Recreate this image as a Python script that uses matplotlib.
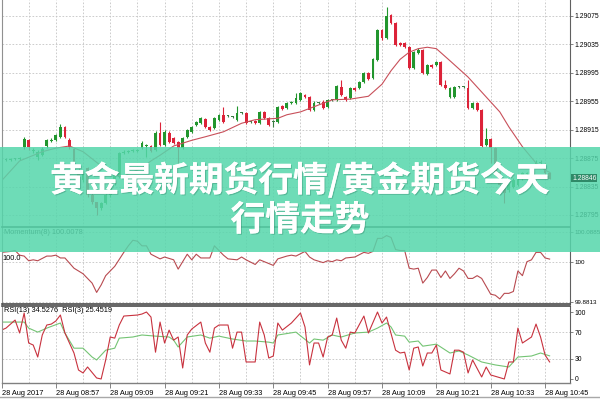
import matplotlib
matplotlib.use("Agg")
import matplotlib.pyplot as plt
import matplotlib.patheffects as pe
from matplotlib.patches import Rectangle
from matplotlib.lines import Line2D
import numpy as np

# one-minute candles, 28 Aug 2017 08:46 .. 10:46
opens = [1.28872, 1.28872, 1.28874, 1.28874, 1.28891, 1.28900, 1.28885, 1.28877, 1.28879, 1.28892,
         1.28899, 1.28900, 1.28905, 1.28919, 1.28900, 1.28888, 1.28858, 1.28844, 1.28861, 1.28823,
         1.28813, 1.28805, 1.28812, 1.28823, 1.28840, 1.28848, 1.28882, 1.28884, 1.28885, 1.28885,
         1.28889, 1.28892, 1.28892, 1.28886, 1.28910, 1.28893, 1.28910, 1.28903, 1.28898, 1.28889,
         1.28905, 1.28912, 1.28922, 1.28924, 1.28930, 1.28919, 1.28917, 1.28929, 1.28936, 1.28934,
         1.28933, 1.28929, 1.28938, 1.28938, 1.28926, 1.28927, 1.28924, 1.28940, 1.28931, 1.28926,
         1.28926, 1.28948, 1.28945, 1.28953, 1.28953, 1.28957, 1.28964, 1.28961, 1.28943, 1.28953,
         1.28954, 1.28947, 1.28957, 1.28957, 1.28975, 1.28961, 1.28960, 1.28974, 1.28974, 1.28982,
         1.28995, 1.28988, 1.29013, 1.29055, 1.29044, 1.29076, 1.29065, 1.29037, 1.29037, 1.29031,
         1.29002, 1.29023, 1.29027, 1.28993, 1.29006, 1.29006, 1.29010, 1.28978, 1.28961, 1.28961,
         1.28975, 1.28975, 1.28974, 1.28945, 1.28953, 1.28943, 1.28893, 1.28902, 1.28889, 1.28855,
         1.28837, 1.28830, 1.28834, 1.28837, 1.28847, 1.28853, 1.28851, 1.28867, 1.28868, 1.28865,
         1.28854]
closes = [1.28872, 1.28874, 1.28874, 1.28875, 1.28902, 1.28891, 1.28886, 1.28884, 1.28888, 1.28900,
          1.28900, 1.28907, 1.28919, 1.28905, 1.28891, 1.28858, 1.28844, 1.28855, 1.28823, 1.28813,
          1.28805, 1.28812, 1.28823, 1.28840, 1.28855, 1.28882, 1.28884, 1.28885, 1.28886, 1.28886,
          1.28896, 1.28893, 1.28885, 1.28910, 1.28893, 1.28912, 1.28898, 1.28896, 1.28889, 1.28903,
          1.28915, 1.28919, 1.28926, 1.28931, 1.28919, 1.28915, 1.28931, 1.28936, 1.28926, 1.28934,
          1.28933, 1.28938, 1.28938, 1.28924, 1.28926, 1.28924, 1.28940, 1.28931, 1.28922, 1.28926,
          1.28947, 1.28944, 1.28953, 1.28954, 1.28960, 1.28967, 1.28961, 1.28943, 1.28953, 1.28953,
          1.28945, 1.28957, 1.28957, 1.28976, 1.28964, 1.28957, 1.28974, 1.28971, 1.28982, 1.28995,
          1.28986, 1.29014, 1.29055, 1.29044, 1.29075, 1.29065, 1.29034, 1.29034, 1.29031, 1.29002,
          1.29024, 1.29027, 1.28995, 1.29006, 1.29003, 1.29010, 1.28978, 1.28974, 1.28974, 1.28975,
          1.28975, 1.28975, 1.28945, 1.28953, 1.28943, 1.28892, 1.28902, 1.28889, 1.28855, 1.28837,
          1.28826, 1.28840, 1.28844, 1.28847, 1.28854, 1.28854, 1.28861, 1.28868, 1.28868, 1.28854,
          1.28846]
highs = [1.28875, 1.28875, 1.28875, 1.28877, 1.28905, 1.28902, 1.28889, 1.28886, 1.28891, 1.28902,
         1.28903, 1.28909, 1.28923, 1.28920, 1.28903, 1.28889, 1.28861, 1.28858, 1.28862, 1.28826,
         1.28813, 1.28813, 1.28826, 1.28841, 1.28858, 1.28884, 1.28886, 1.28886, 1.28888, 1.28888,
         1.28899, 1.28895, 1.28893, 1.28913, 1.28926, 1.28915, 1.28913, 1.28905, 1.28899, 1.28905,
         1.28916, 1.28920, 1.28927, 1.28933, 1.28931, 1.28920, 1.28933, 1.28937, 1.28947, 1.28936,
         1.28934, 1.28948, 1.28940, 1.28940, 1.28927, 1.28929, 1.28941, 1.28941, 1.28933, 1.28929,
         1.28948, 1.28950, 1.28954, 1.28955, 1.28967, 1.28968, 1.28965, 1.28962, 1.28955, 1.28954,
         1.28957, 1.28958, 1.28958, 1.28978, 1.28985, 1.28962, 1.28975, 1.28975, 1.28983, 1.28996,
         1.28996, 1.29016, 1.29057, 1.29057, 1.29088, 1.29078, 1.29066, 1.29038, 1.29038, 1.29033,
         1.29026, 1.29030, 1.29029, 1.29007, 1.29007, 1.29012, 1.29012, 1.28985, 1.28975, 1.28976,
         1.28976, 1.28976, 1.28985, 1.28954, 1.28954, 1.28944, 1.28917, 1.28903, 1.28891, 1.28858,
         1.28840, 1.28841, 1.28847, 1.28848, 1.28855, 1.28855, 1.28864, 1.28872, 1.28872, 1.28868,
         1.28855]
lows = [1.28871, 1.28871, 1.28872, 1.28872, 1.28888, 1.28886, 1.28882, 1.28872, 1.28878, 1.28889,
        1.28898, 1.28899, 1.28903, 1.28903, 1.28888, 1.28855, 1.28840, 1.28841, 1.28820, 1.28810,
        1.28795, 1.28802, 1.28810, 1.28820, 1.28837, 1.28847, 1.28881, 1.28882, 1.28884, 1.28884,
        1.28888, 1.28877, 1.28884, 1.28885, 1.28892, 1.28892, 1.28896, 1.28895, 1.28868, 1.28888,
        1.28903, 1.28910, 1.28920, 1.28923, 1.28917, 1.28913, 1.28916, 1.28927, 1.28924, 1.28933,
        1.28931, 1.28927, 1.28937, 1.28923, 1.28924, 1.28923, 1.28923, 1.28930, 1.28920, 1.28919,
        1.28924, 1.28943, 1.28944, 1.28951, 1.28951, 1.28955, 1.28960, 1.28941, 1.28941, 1.28951,
        1.28944, 1.28945, 1.28955, 1.28955, 1.28962, 1.28955, 1.28958, 1.28969, 1.28972, 1.28981,
        1.28985, 1.28986, 1.29012, 1.29041, 1.29043, 1.29064, 1.29033, 1.29033, 1.29030, 1.29000,
        1.29000, 1.29022, 1.28993, 1.28992, 1.29002, 1.29005, 1.28976, 1.28972, 1.28960, 1.28960,
        1.28974, 1.28974, 1.28944, 1.28944, 1.28941, 1.28891, 1.28892, 1.28868, 1.28851, 1.28834,
        1.28812, 1.28827, 1.28833, 1.28836, 1.28844, 1.28851, 1.28850, 1.28865, 1.28865, 1.28851,
        1.28846]

# moving average (bar index, price)
ma_bar = [-1, 3, 8, 11, 14, 17, 21, 24, 26, 30, 32, 34, 37, 41, 44, 48, 52, 55, 60, 62,
          65, 72, 76, 80, 83, 85, 87, 89, 91, 93, 95, 98, 102, 106, 109, 111, 114, 117, 119, 120]
ma_val = [1.28843, 1.28871, 1.28884, 1.28889, 1.28892, 1.28884, 1.28864, 1.28851, 1.28850, 1.28861,
          1.28871, 1.28879, 1.28892, 1.28900, 1.28905, 1.28912, 1.28924, 1.28929, 1.28931, 1.28936,
          1.28940, 1.28957, 1.28958, 1.28962, 1.28979, 1.28998, 1.29014, 1.29024, 1.29029, 1.29031,
          1.29029, 1.29012, 1.28989, 1.28961, 1.28940, 1.28919, 1.28891, 1.28868, 1.28858, 1.28855]

mom_bar = [-1, 1, 2, 3, 4, 5, 6, 7,
           9, 10, 11, 12, 13,
           15, 16, 17,
           19, 20, 21, 22,
           24,
           26, 27, 28, 29, 30, 31, 32,
           34, 35, 37, 38, 40, 41, 42, 43, 45, 46, 48, 49,
           51, 52, 53, 55, 56, 58, 59, 60, 62, 63, 64, 66, 67, 68,
           70, 71, 72, 73, 74, 75, 77,
           79, 80, 81, 82, 83, 84, 85, 86, 87, 88, 89, 90, 91, 92,
           93, 94, 95, 96, 97, 98, 99, 100, 101, 102, 103, 104, 105,
           107, 108, 109, 110, 111, 112, 113, 114, 115, 116, 117, 118, 119, 120]
mom_val = [100.0277, 100.0305, 100.0332, 100.0194, 100.0167, 100.0028, 100.0056, 100.0028,
           100.0167, 100.0167, 100.0194, 100.0111, 100.0111,
           99.9807, 99.9725, 99.9642,
           99.9365, 99.9089, 99.9310, 99.9586,
           99.9863,
           100.0277, 100.0471, 100.0636, 100.0609, 100.0471, 100.0471, 100.0222,
           100.0084, 100.0139, 100.0056, 99.9780, 100.0222, 100.0056, 100.0222, 100.0111, 100.0111,
           100.0471, 100.0194, 100.0084,
           100.0056, 100.0139, 100.0056, 99.9918, 100.0056, 99.9946, 99.9890, 100.0084, 100.0167,
           100.0194, 100.0167, 100.0305, 100.0139, 100.0056,
           99.9973, 100.0028, 100.0001, 100.0056, 100.0028, 100.0111, 100.0139,
           100.0277, 100.0249, 100.0305, 100.0692, 100.0692, 100.0775, 100.0719, 100.0360, 100.0332,
           100.0332, 99.9807, 99.9780, 99.9807, 99.9365,
           99.9531, 99.9752, 99.9752, 99.9531, 99.9725, 99.9504, 99.9642, 99.9807, 99.9725, 99.9504,
           99.9504, 99.9586, 99.9504,
           99.9034, 99.9006, 99.8896, 99.9061, 99.9061, 99.9117, 99.9725, 99.9586, 100.0001,
           100.0056, 100.0277, 100.0277, 100.0111, 100.0078]

rsi3_bar = [-1, 0, 2, 3, 4, 5, 6, 7, 8, 9, 10, 11, 12, 13, 15, 16, 17, 18, 20, 21,
            22, 23, 24, 25, 26, 29, 30, 31, 32, 33, 34, 35, 36, 37, 38, 39, 40, 41, 43, 44,
            45, 46, 47, 49, 50, 51, 52, 53, 55, 56, 57, 58, 59, 60, 61, 63, 64, 65, 66, 67,
            68, 69, 70, 71, 72, 73, 74, 75, 76, 77, 79, 80, 82, 83, 84, 86, 87, 88, 89, 90,
            91, 92, 93, 94, 95, 96, 98, 99, 100, 101, 102, 103, 105, 106, 107, 110, 111, 112, 113, 114,
            116, 117, 118, 119, 120]
rsi3_val = [73, 76, 88, 68.7, 98.5, 53.7, 50.7, 32.8, 65.7, 80.6, 82, 86.6, 95.5, 68.7, 38.8, 13.4, 9, 17.9, 1.5, 0,
            28.4, 62.7, 61, 80.6, 94, 95.5, 97, 100, 92.5, 40, 85, 53.7, 73, 58, 62.7, 16.4, 65.7, 74.6, 85, 53.7,
            40, 76, 80.6, 80.6, 46, 70, 70, 25.4, 25.4, 85, 65.7, 31.3, 34.3, 83.6, 73, 83.6, 91, 98.5, 77.6, 21,
            53.7, 53.7, 32.8, 62.7, 65.7, 91, 58, 46, 70, 68.7, 94, 68.7, 100, 83.6, 92.5, 43, 38.8, 40, 13.4, 46,
            47.8, 19.4, 38.8, 38.8, 50.7, 13.4, 7.5, 43, 43, 40, 9, 28.4, 3, 17.9, 6, 0, 25.4, 25.4, 76, 53.7,
            62.7, 82, 62.7, 35.8, 25.45]

rsi13_bar = [-1, 2, 4, 5, 7, 9, 12, 13, 15, 17, 19, 20, 22, 24, 25, 28, 30, 33, 36, 37,
             38, 40, 43, 45, 47, 50, 53, 55, 58, 59, 60, 64, 67, 68, 70, 72, 74, 77, 80, 82,
             84, 85, 86, 88, 89, 91, 92, 95, 98, 100, 102, 105, 108, 111, 112, 113, 116, 118, 120]
rsi13_val = [85, 85, 85, 76, 70, 76, 83.6, 68.7, 46, 46, 32.8, 28.4, 43, 46, 61, 62.7, 65.7, 64, 62.7, 58,
             47.8, 62.7, 65.7, 61, 64, 59.7, 56.7, 56.7, 55, 53.7, 65.7, 70, 53.7, 59.7, 58, 65.7, 62.7, 68.7, 70, 76,
             83.6, 77.6, 65.7, 64, 55, 56.7, 49, 52, 38.8, 41.8, 35.8, 25.4, 21, 17.9, 25.4, 32.8, 34.3, 38.8, 34.53]

price_ticks = [1.28795, 1.28835, 1.28875, 1.28915, 1.28955, 1.28995, 1.29035, 1.29075]
mom_ticks = [99.8813, 100.0, 100.0885]
mom_tick_labels = ["99.8813", "100", "100.0885"]
rsi_ticks = [0, 30, 70, 100]
time_labels = ["28 Aug 2017", "28 Aug 08:57", "28 Aug 09:09", "28 Aug 09:21", "28 Aug 09:33",
               "28 Aug 09:45", "28 Aug 09:57", "28 Aug 10:09", "28 Aug 10:21", "28 Aug 10:33",
               "28 Aug 10:45"]
banner_lines = ["黄金最新期货行情/黄金期货今天", "行情走势"]

GREEN = "#22962e"
RED = "#dc2339"
GRID = "#c4c4c4"
SMALL = dict(fontsize=5.3, family="Liberation Sans")
AXIS = dict(fontsize=4.9, family="Liberation Sans")
AXIS_NARROW = dict(fontsize=4.5, family="Liberation Sans")

W, H = 600, 400
fig = plt.figure(figsize=(6, 4), dpi=100)
fig.patch.set_facecolor("white")


def add_panel(x0, y0, x1, y1):
    # pixel box (top-left origin) -> figure fraction
    return fig.add_axes([x0 / W, 1 - y1 / H, (x1 - x0) / W, (y1 - y0) / H])


ax_p = add_panel(1.5, 0, 570, 227)
ax_m = add_panel(1.5, 228, 570, 304)
ax_r = add_panel(1.5, 306, 570, 383)

label_pos = np.arange(-1, 121, 12)
mid_pos = np.arange(5, 121, 12)

for ax in (ax_p, ax_m, ax_r):
    ax.set_xlim(-1.0, 124.5)
    ax.set_xticks(label_pos)
    ax.set_xticks(mid_pos, minor=True)
    ax.grid(True, which="both", axis="x", color=GRID, lw=0.6, ls=(0, (2, 2)))
    ax.grid(True, which="major", axis="y", color=GRID, lw=0.6, ls=(0, (2, 2)))
    ax.set_axisbelow(True)
    ax.yaxis.tick_right()
    ax.tick_params(axis="y", length=2.0, width=0.6, pad=1.2, colors="#707070", labelcolor="black")
    ax.tick_params(axis="x", which="minor", length=0)
    ax.spines["left"].set_color("#909090")
    ax.spines["right"].set_color("#606060")
    ax.spines["right"].set_linewidth(0.8)
    ax.spines["top"].set_visible(False)
    ax.spines["bottom"].set_color("#4a4a4a")
    ax.spines["bottom"].set_linewidth(1.2)

# price panel
o = np.array(opens)
c = np.array(closes)
bars = np.arange(len(o))
colors = np.where(c > o, GREEN, np.where(c < o, RED, "#3b7d45"))
ax_p.vlines(bars, lows, highs, colors=colors, lw=0.8)
body = np.maximum(np.abs(c - o), 0.000012)
ax_p.bar(bars, body, bottom=np.minimum(o, c), width=0.62, color=colors, linewidth=0)
ax_p.plot(ma_bar, ma_val, color="#c8505a", lw=0.8)
ax_p.set_ylim(1.28778, 1.290975)
ax_p.set_yticks(price_ticks)
ax_p.set_yticklabels([f"{v:.5f}" for v in price_ticks], **AXIS)
ax_p.tick_params(axis="x", which="major", length=0, labelbottom=False)

# momentum panel
ax_m.plot(mom_bar, mom_val, color="#b84a50", lw=0.8)
ax_m.set_ylim(99.8745, 100.1)
ax_m.set_yticks(mom_ticks)
ax_m.set_yticklabels(mom_tick_labels, **AXIS_NARROW)
ax_m.tick_params(axis="x", which="major", length=0, labelbottom=False)
ax_m.text(0.004, 0.985, "Momentum(8) 100.0078", transform=ax_m.transAxes, va="top", ha="left",
          color="#303030", **SMALL)
ax_m.text(0.002, 100.0, "100.0", transform=ax_m.get_yaxis_transform(), va="bottom", ha="left",
          color="black", **SMALL)

# RSI panel
ax_r.plot(rsi13_bar, rsi13_val, color="#74c474", lw=0.8)
ax_r.plot(rsi3_bar, rsi3_val, color="#c8323e", lw=0.8)
ax_r.set_ylim(-6, 109)
ax_r.set_yticks(rsi_ticks)
ax_r.set_yticklabels([str(v) for v in rsi_ticks], **AXIS)
ax_r.grid(False, axis="y")
for lvl in (30, 70):
    ax_r.axhline(lvl, color=GRID, lw=0.6, ls=(0, (2, 2)), zorder=0)
ax_r.spines["top"].set_visible(True)
ax_r.spines["top"].set_color("#4a4a4a")
ax_r.spines["top"].set_linewidth(1.2)
ax_r.spines["bottom"].set_color("#808080")
ax_r.spines["bottom"].set_linewidth(1.0)
ax_r.set_xticklabels(time_labels, **SMALL)
for lbl in ax_r.get_xticklabels():
    lbl.set_horizontalalignment("left")
ax_r.tick_params(axis="x", which="major", length=3.5, width=0.6, pad=1.5, colors="#707070",
                 labelcolor="black")
ax_r.text(0.004, 0.985, "RSI(13) 34.5276  RSI(3) 25.4519", transform=ax_r.transAxes,
          va="top", ha="left", color="black", **SMALL)

fig.add_artist(Line2D([0, 1], [3 / H, 3 / H], color="#a8a8a8", lw=1.0))

# overlay banner
fig.add_artist(Rectangle((0, 1 - 252 / H), 1, 105 / H, transform=fig.transFigure,
                         facecolor="#55d6ab", edgecolor="none", alpha=0.85, zorder=10))
shadow = [pe.withSimplePatchShadow(offset=(0.8, -0.8), shadow_rgbFace="#2b7a60", alpha=0.35),
          pe.Normal()]
fig.text(0.5, 1 - 180 / H, banner_lines[0], ha="center", va="center", fontsize=25,
         weight="bold", color="white", family=["Noto Sans CJK SC", "DejaVu Sans"],
         zorder=11, path_effects=shadow)
fig.text(0.5, 1 - 220 / H, banner_lines[1], ha="center", va="center", fontsize=25,
         weight="bold", color="white", family=["Noto Sans CJK SC", "DejaVu Sans"],
         zorder=11, path_effects=shadow)

# current price tag
fig.text(572 / W, 1 - 178 / H, f"{closes[-1]:.5f}", ha="left", va="center", color="white",
         zorder=12, bbox=dict(boxstyle="square,pad=0.12", fc="#2f8a68", ec="none"), **AXIS)

fig.savefig("out.png", dpi=100)
